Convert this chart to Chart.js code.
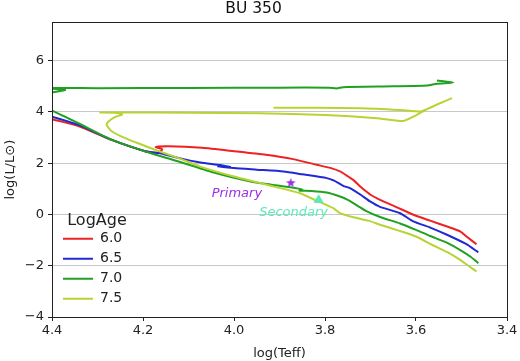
<!DOCTYPE html>
<html>
<head>
<meta charset="utf-8">
<script src="https://cdn.jsdelivr.net/npm/chart.js@4"></script>
<style>
  html, body { margin: 0; padding: 0; background: #fff; }
</style>
</head>
<body>
<canvas id="myChart" width="520" height="361"></canvas>
<script>
// ticks
const xTicks = [4.4, 4.2, 4.0, 3.8, 3.6, 3.4];
const yTicks = [-4, -2, 0, 2, 4, 6];

// isochrones (log Teff, log L)
const ageLabels = ["6.0", "6.5", "7.0", "7.5"];

const teff_60 = [3.467, 3.489, 3.503, 3.53, 3.569, 3.60, 3.642, 3.679, 3.70, 3.72, 3.738, 3.755, 3.767, 3.785, 3.818, 3.87, 3.93, 4.00, 4.07, 4.144, 4.172, 4.158, 4.165, 4.195, 4.268, 4.342, 4.40, 4.45];
const logL_60 = [-1.16, -0.86, -0.66, -0.48, -0.24, -0.05, 0.28, 0.57, 0.77, 1.05, 1.35, 1.55, 1.68, 1.80, 1.94, 2.16, 2.33, 2.47, 2.60, 2.66, 2.63, 2.55, 2.40, 2.47, 2.90, 3.45, 3.72, 4.00];

const teff_65 = [3.463, 3.49, 3.532, 3.57, 3.606, 3.635, 3.679, 3.701, 3.72, 3.745, 3.76, 3.78, 3.796, 3.85, 3.891, 3.95, 4.00, 4.035, 4.008, 4.03, 4.074, 4.12, 4.16, 4.195, 4.268, 4.342, 4.40, 4.45];
const logL_65 = [-1.48, -1.15, -0.79, -0.50, -0.27, 0.05, 0.30, 0.51, 0.75, 1.03, 1.12, 1.32, 1.42, 1.57, 1.68, 1.75, 1.81, 1.88, 1.85, 1.93, 2.03, 2.20, 2.38, 2.47, 2.91, 3.50, 3.82, 4.10];

const teff_70 = [3.463, 3.48, 3.50, 3.53, 3.569, 3.60, 3.635, 3.679, 3.708, 3.73, 3.75, 3.767, 3.796, 3.83, 3.856, 3.85, 3.876, 3.92, 3.964, 4.049, 4.122, 4.195, 4.268, 4.342, 4.40, 4.45,
  4.45, 4.371, 4.42, 4.30, 4.10, 3.90, 3.79, 3.775, 3.76, 3.65, 3.576, 3.554, 3.518, 3.554];
const logL_70 = [-1.90, -1.65, -1.42, -1.12, -0.84, -0.60, -0.35, -0.10, 0.12, 0.36, 0.57, 0.70, 0.86, 0.92, 0.93, 0.97, 1.06, 1.17, 1.29, 1.66, 2.07, 2.46, 2.91, 3.56, 4.05, 4.40,
  4.60, 4.86, 4.93, 4.93, 4.94, 4.95, 4.95, 4.92, 4.97, 5.00, 5.03, 5.10, 5.15, 5.23];

const teff_75 = [3.467, 3.485, 3.503, 3.53, 3.565, 3.60, 3.64, 3.679, 3.705, 3.74, 3.767, 3.782, 3.82, 3.855, 3.928, 4.00, 4.074, 4.122, 4.173, 4.202, 4.239, 4.268, 4.28, 4.276, 4.262, 4.246, 4.255, 4.294, 4.25, 4.10, 3.943, 3.80, 3.686, 3.628, 3.598, 3.576, 3.55, 3.521, 3.55, 3.576, 3.59, 3.635, 3.722, 3.913];
const logL_75 = [-2.22, -2.00, -1.77, -1.48, -1.18, -0.86, -0.62, -0.40, -0.24, -0.10, 0.05, 0.25, 0.55, 0.83, 1.16, 1.48, 1.87, 2.20, 2.52, 2.72, 2.98, 3.24, 3.50, 3.63, 3.80, 3.90, 3.96, 3.98, 3.98, 3.97, 3.95, 3.88, 3.76, 3.65, 3.89, 4.11, 4.32, 4.54, 4.32, 4.11, 4.02, 4.08, 4.15, 4.17];

// the two stars
const starNames = ["Primary", "Secondary"];
const starTeff = [3.875, 3.814];
const starLogL = [1.25, 0.57];

const ageColors = ["#ee2222", "#2228d4", "#22a022", "#b8d434"];
const starColors = ["#9b30e6", "#5ee8b8"];
const fuente = '"DejaVu Sans", sans-serif';

const ctx = document.getElementById("myChart").getContext("2d");

const toPoints = (xs, ys) => xs.map((x, i) => ({ x: x, y: ys[i] }));

// filled five point star for the primary
const estrella = document.createElement("canvas");
estrella.width = 11;
estrella.height = 11;
(() => {
  const c = estrella.getContext("2d");
  c.fillStyle = starColors[0];
  c.beginPath();
  for (let i = 0; i < 10; i++) {
    const r = i % 2 == 0 ? 5 : 2.1;
    const a = -Math.PI / 2 + (i * Math.PI) / 5;
    const px = 5.5 + r * Math.cos(a);
    const py = 6 + r * Math.sin(a);
    if (i == 0) c.moveTo(px, py);
    else c.lineTo(px, py);
  }
  c.closePath();
  c.fill();
})();

const isoTeff = [teff_60, teff_65, teff_70, teff_75];
const isoLogL = [logL_60, logL_65, logL_70, logL_75];

const datasets = ageLabels.map((lab, i) => ({
  label: lab,
  data: toPoints(isoTeff[i], isoLogL[i]),
  showLine: true,
  borderColor: ageColors[i],
  backgroundColor: ageColors[i],
  borderWidth: 2,
  pointRadius: 0,
  tension: 0.2,
  order: 4 - i,
}));

datasets.push({
  label: starNames[0],
  data: [{ x: starTeff[0], y: starLogL[0] }],
  pointStyle: estrella,
  pointRadius: 5,
  backgroundColor: starColors[0],
  borderColor: starColors[0],
  order: 0,
});
datasets.push({
  label: starNames[1],
  data: [{ x: starTeff[1], y: starLogL[1] }],
  pointStyle: "triangle",
  pointRadius: 5,
  borderWidth: 1,
  backgroundColor: starColors[1],
  borderColor: starColors[1],
  order: 0,
});

// box around the plot like matplotlib spines
const marco = {
  id: "marco",
  afterDraw(chart) {
    const a = chart.chartArea;
    const c = chart.ctx;
    c.save();
    c.strokeStyle = "#222";
    c.lineWidth = 1;
    c.strokeRect(Math.round(a.left) + 0.5, Math.round(a.top) + 0.5, Math.round(a.right - a.left), Math.round(a.bottom - a.top));
    c.restore();
  },
};

// italic names next to the two stars (pixel offsets from the marker)
const offsets = [[-54, 11], [-25, 13]];
const nombres = {
  id: "nombres",
  afterDatasetsDraw(chart) {
    const c = chart.ctx;
    c.save();
    c.font = "italic 13px " + fuente;
    c.textAlign = "center";
    c.textBaseline = "middle";
    for (let k = 0; k < 2; k++) {
      const meta = chart.getDatasetMeta(4 + k);
      const p = meta.data[0];
      c.fillStyle = starColors[k];
      c.fillText(starNames[k], p.x + offsets[k][0], p.y + offsets[k][1]);
    }
    c.restore();
  },
};

// nudge the in-plot legend to where matplotlib put it
const moverLeyenda = {
  id: "moverLeyenda",
  afterLayout(chart) {
    const l = chart.legend;
    l.left += 5;
    l.width = 80;
    l.right = l.left + l.width;
    l.top += 17;
    l.bottom += 17;
  },
};

const myChart = new Chart(ctx, {
  type: "scatter",
  data: { datasets: datasets },
  options: {
    responsive: false,
    animation: false,
    layout: { padding: { left: 0, right: 13, top: 0, bottom: 0 } },
    plugins: {
      title: {
        display: true,
        text: "BU 350",
        color: "#111",
        font: { family: fuente, size: 15.5, weight: "normal" },
        padding: { top: 0, bottom: 3.7 },
      },
      legend: {
        position: "chartArea",
        align: "end",
        labels: {
          usePointStyle: true,
          pointStyle: "line",
          pointStyleWidth: 30,
          padding: 6,
          color: "#222",
          font: { family: fuente, size: 14 },
          filter: (item) => item.datasetIndex < 4,
          sort: (a, b) => a.datasetIndex - b.datasetIndex,
        },
        title: {
          display: true,
          text: "LogAge",
          position: "center",
          color: "#222",
          font: { family: fuente, size: 16, lineHeight: 0.8 },
          padding: 0,
        },
      },
      tooltip: { enabled: false },
    },
    scales: {
      x: {
        type: "linear",
        min: 3.4,
        max: 4.4,
        reverse: true,
        afterBuildTicks: (scale) => {
          scale.ticks = xTicks.map((v) => ({ value: v }));
        },
        afterFit: (scale) => {
          scale.height = 44;
        },
        ticks: {
          callback: (v) => v.toFixed(1),
          color: "#222",
          font: { family: fuente, size: 13 },
          padding: 2,
          maxRotation: 0,
        },
        grid: { drawOnChartArea: false, tickLength: 4, tickColor: "#222" },
        border: { color: "#222", width: 1 },
        title: {
          display: true,
          text: "log(Teff)",
          color: "#222",
          font: { family: fuente, size: 13 },
          padding: { top: 1.5, bottom: 0 },
        },
      },
      y: {
        type: "linear",
        min: -4,
        max: 7.5,
        afterBuildTicks: (scale) => {
          scale.ticks = yTicks.map((v) => ({ value: v }));
        },
        afterFit: (scale) => {
          scale.width = 52;
        },
        ticks: {
          callback: (v) => (v < 0 ? "\u2212" + Math.abs(v) : "" + v),
          color: "#222",
          font: { family: fuente, size: 13 },
          padding: 4,
        },
        grid: { color: "#c4c9c9", lineWidth: 1, tickLength: 4, tickColor: "#222" },
        border: { color: "#222", width: 1 },
        title: {
          display: true,
          text: "log(L/L\u2299)",
          color: "#222",
          font: { family: fuente, size: 13 },
          padding: { top: 2.5, bottom: 0 },
        },
      },
    },
  },
  plugins: [marco, nombres, moverLeyenda],
});
</script>
</body>
</html>
